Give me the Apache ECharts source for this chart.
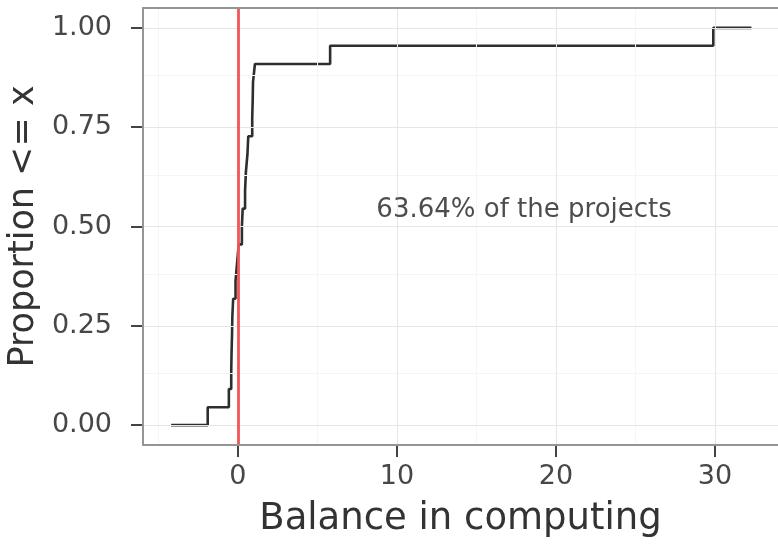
<!DOCTYPE html>
<html><head><meta charset="utf-8">
<script src="https://cdn.jsdelivr.net/npm/echarts@6/dist/echarts.min.js"></script>
<style>html,body{margin:0;padding:0;background:#fff}#c{width:778px;height:548px}</style>
</head><body><div id="c"></div>
<script>
// ECDF step points (balance value, cumulative proportion)
const stepX = [-4.2, -1.9, -0.57, -0.42, -0.4, -0.37, -0.35, -0.3, -0.15, -0.05, 0.05, 0.25, 0.3, 0.45, 0.5, 0.6, 0.65, 0.9, 0.93, 0.95, 1.07, 5.8, 29.9, 32.3];
const stepY = [0, 0.045, 0.091, 0.136, 0.182, 0.227, 0.273, 0.318, 0.364, 0.409, 0.455, 0.5, 0.545, 0.591, 0.636, 0.682, 0.727, 0.773, 0.818, 0.864, 0.909, 0.955, 1, 1];
const xTicks = [0, 10, 20, 30];
const yTicks = [0, 0.25, 0.5, 0.75, 1];
const xMinor = [-5, 5, 15, 25];
const yMinor = [0.125, 0.375, 0.625, 0.875];
const xRange = [-5.97, 33.97];
const yRange = [-0.0525, 1.0525];
const refLineX = 0;
const annotationText = '63.64% of the projects';
const annotationPos = [18, 0.54];
const xName = 'Balance in computing';
const yName = 'Proportion <= x';

const FONT = 'DejaVu Sans';
const chart = echarts.init(document.getElementById('c'), null, {renderer: 'canvas'});

const gridLines = [];
xMinor.forEach(v => gridLines.push({xAxis: v, lineStyle: {color: '#f5f5f5', width: 1, type: 'solid'}}));
yMinor.forEach(v => gridLines.push({yAxis: v, lineStyle: {color: '#f5f5f5', width: 1, type: 'solid'}}));
xTicks.forEach(v => gridLines.push({xAxis: v, lineStyle: {color: '#e6e6e6', width: 1, type: 'solid'}}));
yTicks.forEach(v => gridLines.push({yAxis: v, lineStyle: {color: '#e6e6e6', width: 1, type: 'solid'}}));
const borderStyle = {color: '#959595', width: 2, type: 'solid'};
const borderLines = [
  {xAxis: xRange[0], lineStyle: borderStyle},
  {yAxis: yRange[0], lineStyle: borderStyle},
  {yAxis: yRange[1], lineStyle: borderStyle}
];

chart.setOption({
  animation: false,
  backgroundColor: '#ffffff',
  grid: {left: 143, top: 7, right: 0, bottom: 102, show: false, containLabel: false, outerBoundsMode: 'none'},
  xAxis: {
    type: 'value', min: xRange[0], max: xRange[1],
    axisLine: {show: false, onZero: false},
    splitLine: {show: false},
    axisTick: {show: true, customValues: xTicks, length: 11, lineStyle: {color: '#444', width: 2}},
    axisLabel: {customValues: xTicks, margin: 17, fontFamily: FONT, fontSize: 27, color: '#474747'},
    name: xName, nameLocation: 'middle', nameGap: 55,
    nameTextStyle: {fontFamily: FONT, fontSize: 37, color: '#333'}
  },
  yAxis: {
    type: 'value', min: yRange[0], max: yRange[1],
    axisLine: {show: false, onZero: false},
    splitLine: {show: false},
    axisTick: {show: true, customValues: yTicks, length: 12, lineStyle: {color: '#444', width: 2}},
    axisLabel: {customValues: yTicks, margin: 31, fontFamily: FONT, fontSize: 27, color: '#474747',
      formatter: v => v.toFixed(2)},
    name: yName, nameLocation: 'middle', nameGap: 88,
    nameTextStyle: {fontFamily: FONT, fontSize: 35, color: '#333'}
  },
  series: [
    {
      type: 'line', data: [], silent: true, z: 1,
      markLine: {silent: true, symbol: 'none', label: {show: false}, animation: false, data: gridLines}
    },
    {
      type: 'line', step: 'end', z: 3,
      data: stepX.map((x, i) => [x, stepY[i]]),
      showSymbol: false, symbol: 'none',
      lineStyle: {color: '#2e2e2e', width: 2.6},
      markPoint: {
        silent: true, symbol: 'circle', symbolSize: 0,
        data: [{coord: annotationPos}],
        label: {show: true, position: 'inside', formatter: annotationText, fontFamily: FONT, fontSize: 26, color: '#4d4d4d'}
      }
    },
    {
      type: 'line', data: [], z: 5, silent: true,
      markLine: {silent: true, symbol: 'none', label: {show: false}, animation: false,
        data: [{xAxis: refLineX}], lineStyle: {color: '#f25555', width: 2.8, type: 'solid'}}
    },
    {
      type: 'line', data: [], z: 6, silent: true,
      markLine: {silent: true, symbol: 'none', label: {show: false}, animation: false, data: borderLines}
    }
  ]
});
</script></body></html>
